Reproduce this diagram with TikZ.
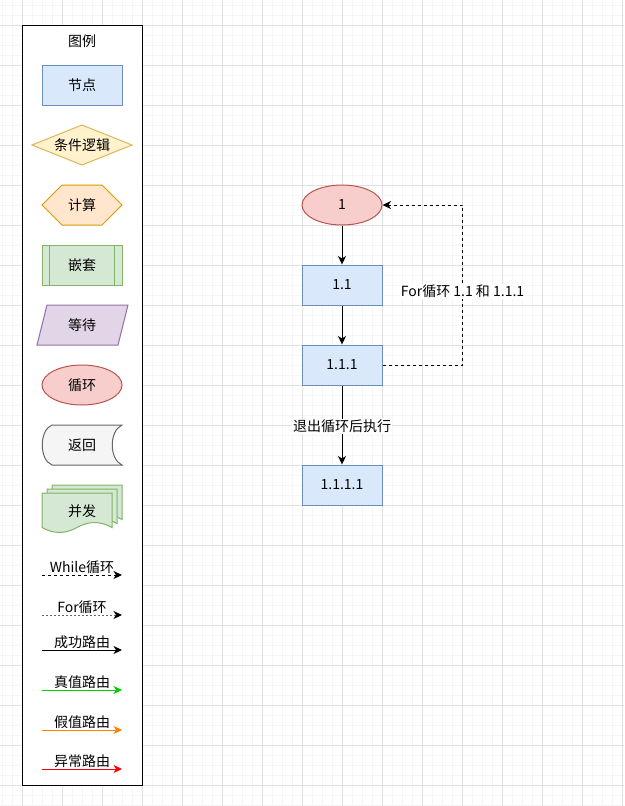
\documentclass[tikz,border=0pt]{standalone}
\usepackage{fontspec}
\setmainfont{Noto Sans CJK SC}
\usetikzlibrary{arrows.meta,shapes.geometric}

\definecolor{minorgrid}{RGB}{246,246,246}
\definecolor{majorgrid}{RGB}{225,225,225}
\definecolor{blueFill}{HTML}{DAE8FC}
\definecolor{blueLine}{HTML}{6C8EBF}
\definecolor{yellowFill}{HTML}{FFF2CC}
\definecolor{yellowLine}{HTML}{D6B656}
\definecolor{orangeFill}{HTML}{FFE6CC}
\definecolor{orangeLine}{HTML}{D79B00}
\definecolor{greenFill}{HTML}{D5E8D4}
\definecolor{greenLine}{HTML}{82B366}
\definecolor{purpleFill}{HTML}{E1D5E7}
\definecolor{purpleLine}{HTML}{9673A6}
\definecolor{redFill}{HTML}{F8CECC}
\definecolor{redLine}{HTML}{B85450}
\definecolor{grayFill}{HTML}{F5F5F5}
\definecolor{grayLine}{HTML}{666666}
\definecolor{trueRoute}{HTML}{00CC00}
\definecolor{falseRoute}{HTML}{FF8000}
\definecolor{errorRoute}{HTML}{FF0000}

\tikzset{
  shapeline/.style={line width=1pt},
  box/.style={rectangle, shapeline, minimum width=80pt, minimum height=40pt, inner sep=0pt},
  bluebox/.style={box, fill=blueFill, draw=blueLine},
  loopshape/.style={ellipse, shapeline, fill=redFill, draw=redLine,
    minimum width=80pt, minimum height=40pt, inner sep=0pt},
  tip/.style={-{Stealth[length=8.5pt,width=8pt,inset=2.5pt]}},
  flow/.style={tip, line width=1pt, black},
  dashline/.style={dash pattern=on 3pt off 3pt},
  lbl/.style={inner sep=1pt},
  edgelbl/.style={fill=white, inner sep=1pt},
}

\begin{document}
\begin{tikzpicture}[x=1pt, y=-1pt, font=\fontsize{14}{17}\selectfont]
\useasboundingbox (0,0) rectangle (624,806);

% background grid: fine lines every 10, strong lines every 40
\foreach \x in {2,12,...,622} \draw[minorgrid, line width=1pt] (\x,0) -- (\x,806);
\foreach \y in {5,15,...,805} \draw[minorgrid, line width=1pt] (0,\y) -- (624,\y);
\foreach \x in {22,62,...,622} \draw[majorgrid, line width=1pt] (\x,0) -- (\x,806);
\foreach \y in {25,65,...,785} \draw[majorgrid, line width=1pt] (0,\y) -- (624,\y);

% legend frame
\draw[black, line width=1pt, fill=white] (22,25) rectangle (142,785);
\node (legendtitle) at (82,41) {图例};

% plain node
\node[bluebox] (lgnode) at (82,85) {节点};

% condition (rhombus)
\filldraw[shapeline, fill=yellowFill, draw=yellowLine]
  (32,145) -- (82,125) -- (132,145) -- (82,165) -- cycle;
\node (lgcond) at (82,145) {条件逻辑};

% computation (hexagon)
\filldraw[shapeline, fill=orangeFill, draw=orangeLine]
  (42,205) -- (62,185) -- (102,185) -- (122,205) -- (102,225) -- (62,225) -- cycle;
\node (lgcalc) at (82,205) {计算};

% nested (subprocess)
\node[box, fill=greenFill, draw=greenLine] (lgnest) at (82,265) {嵌套};
\draw[shapeline, greenLine] ([xshift=8pt]lgnest.north west) -- ([xshift=8pt]lgnest.south west);
\draw[shapeline, greenLine] ([xshift=-8pt]lgnest.north east) -- ([xshift=-8pt]lgnest.south east);

% wait (parallelogram)
\filldraw[shapeline, fill=purpleFill, draw=purpleLine]
  (47,305) -- (128,305) -- (118,345) -- (37,345) -- cycle;
\node (lgwait) at (82,325) {等待};

% loop
\node[loopshape] (lgloop) at (82,385) {循环};

% return (display)
\filldraw[shapeline, fill=grayFill, draw=grayLine]
  (52,425) -- (122,425) .. controls (109,431) and (109,459) .. (122,465)
  -- (52,465) .. controls (39,460) and (39,430) .. (52,425) -- cycle;
\node (lgreturn) at (82,445) {返回};

% concurrent (stacked documents)
\foreach \dx/\dy in {10/-8, 5/-4, 0/0} {
  \filldraw[shapeline, fill=greenFill, draw=greenLine, shift={(\dx,\dy)}]
    (42,493) -- (112,493) -- (112,527.5)
    .. controls (100.3,520.9) and (88.7,520.9) .. (77,527.5)
    .. controls (65.3,534.1) and (53.7,534.1) .. (42,527.5) -- cycle;
}
\node (lgpar) at (82,511) {并发};

% legend connectors
\coordinate (wa) at (42,575);  \coordinate (wb) at (122,575);
\draw[tip, line width=1pt, black, dashline] (wa) -- node[above, lbl] {While循环} (wb);
\coordinate (fa) at (42,615);  \coordinate (fb) at (122,615);
\draw[-{Stealth[length=8.5pt,width=8pt,inset=2.5pt,color=black]}, line width=1pt, grayLine,
      dash pattern=on 2pt off 2pt] (fa) -- node[above, lbl, text=black] {For循环} (fb);
\coordinate (sa) at (42,650);  \coordinate (sb) at (122,650);
\draw[tip, line width=1pt, black] (sa) -- node[above, lbl] {成功路由} (sb);
\coordinate (ta) at (42,690);  \coordinate (tb) at (122,690);
\draw[tip, line width=1pt, trueRoute] (ta) -- node[above, lbl, text=black] {真值路由} (tb);
\coordinate (xa) at (42,730);  \coordinate (xb) at (122,730);
\draw[tip, line width=1pt, falseRoute] (xa) -- node[above, lbl, text=black] {假值路由} (xb);
\coordinate (ea) at (42,769);  \coordinate (eb) at (122,769);
\draw[tip, line width=1pt, errorRoute] (ea) -- node[above, lbl, text=black] {异常路由} (eb);

% flow
\node[loopshape] (n1) at (342,205) {1};
\node[bluebox] (n11) at (342,285) {1.1};
\node[bluebox] (n111) at (342,365) {1.1.1};
\node[bluebox] (n1111) at (342,485) {1.1.1.1};

\draw[flow] (n1) -- (n11);
\draw[flow] (n11) -- (n111);
\draw[flow] (n111) -- node[edgelbl, pos=0.52] {退出循环后执行} (n1111);
\draw[flow, dashline] (n111.east) -- ++(80,0) coordinate (loopturn)
  |- node[edgelbl, pos=0.23] {For循环 1.1 和 1.1.1} (n1.east);
\end{tikzpicture}
\end{document}
